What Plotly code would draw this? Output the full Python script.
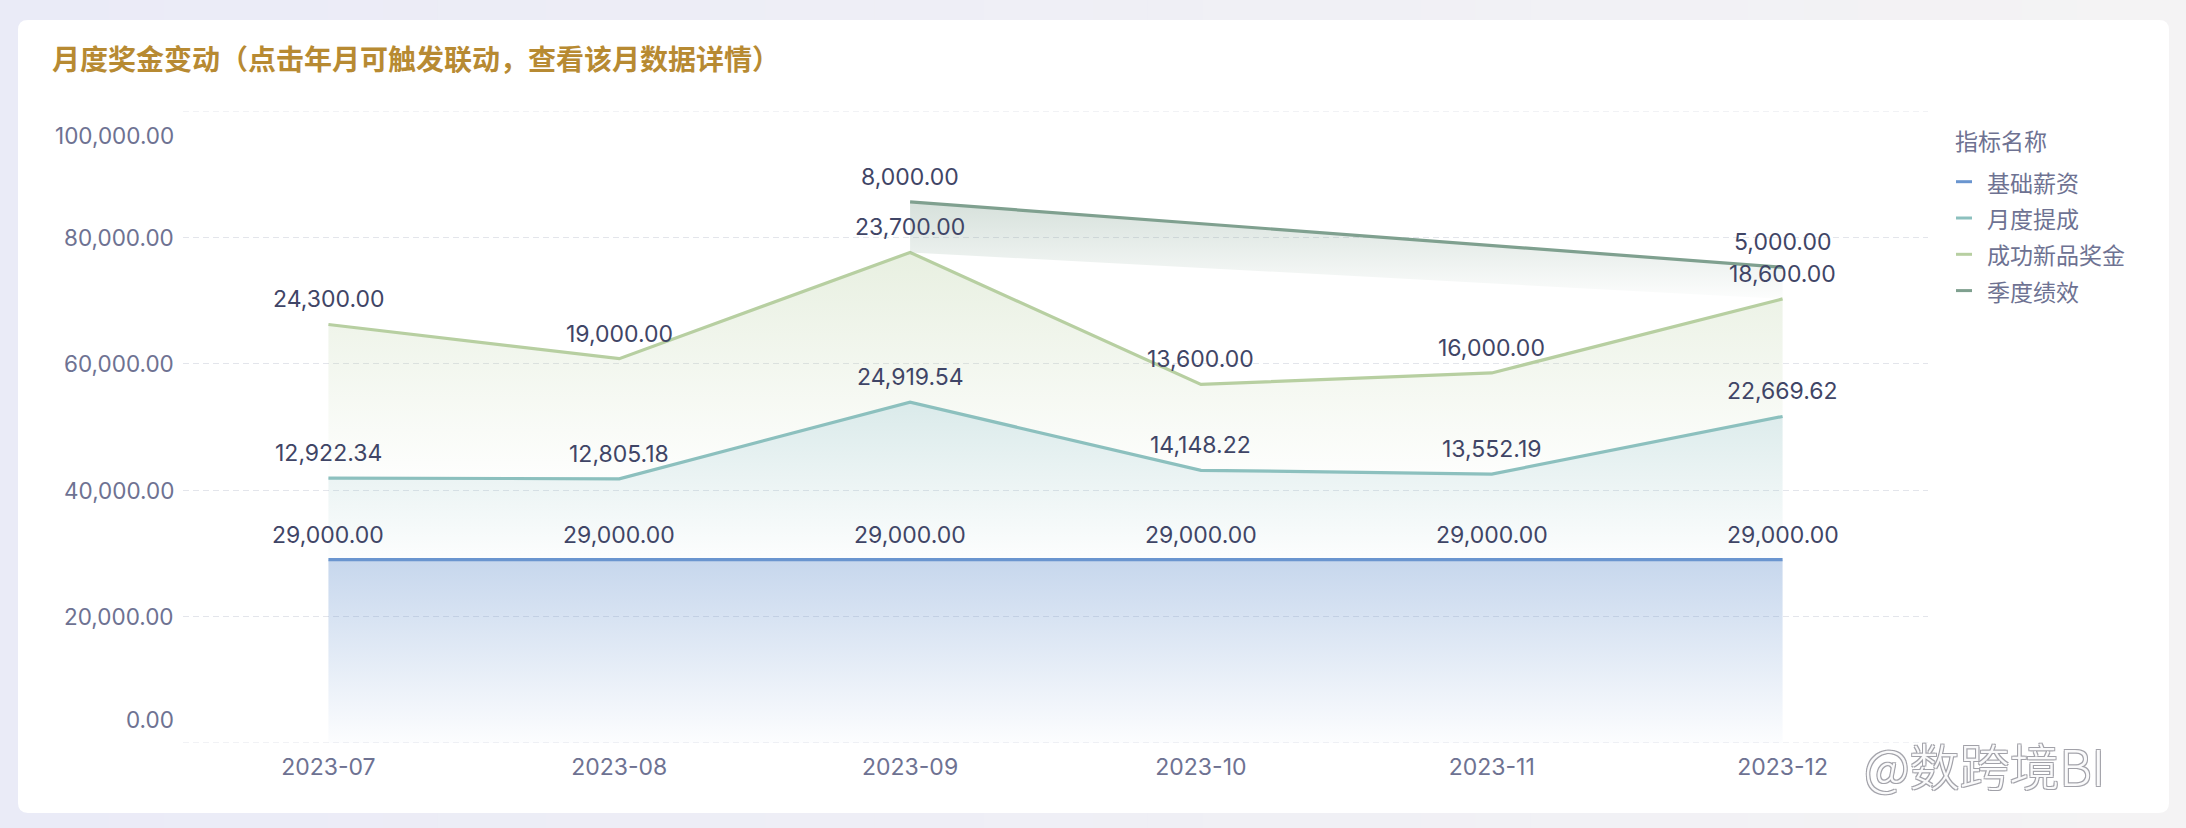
import plotly.graph_objects as go

# ---------------- data ----------------
months = ["2023-07", "2023-08", "2023-09", "2023-10", "2023-11", "2023-12"]
base_salary = [29000, 29000, 29000, 29000, 29000, 29000]
commission = [12922.34, 12805.18, 24919.54, 14148.22, 13552.19, 22669.62]
new_product_bonus = [24300, 19000, 23700, 13600, 16000, 18600]
quarterly_perf = [None, None, 8000, None, None, 5000]
series_names = ["基础薪资", "月度提成", "成功新品奖金", "季度绩效"]
y_ticks = [0, 20000, 40000, 60000, 80000, 100000]
title_text = "月度奖金变动（点击年月可触发联动，查看该月数据详情）"
legend_title = "指标名称"
watermark = "@数跨境BI"

# ---------------- style ----------------
W, H = 2186, 828
L, R, T, B = 183, 258, 111, 85
PW, PH = W - L - R, H - T - B

line_colors = ["#6A95CF", "#8CC0BE", "#B7CFA1", "#7FA08F"]
fill_rgb = [(106, 149, 207), (140, 190, 190), (183, 207, 161), (127, 160, 143)]
fill_top_alpha = [0.38, 0.32, 0.32, 0.32]
NUM_FONT = "Inter, Noto Sans CJK SC, sans-serif"
CJK_FONT = "Noto Sans CJK SC, sans-serif"
TICK_COLOR = "#6E7292"
LABEL_COLOR = "#3F4566"
GRID_COLOR = "#E3E5EB"


def px_x(px):
    return (px - L) / PW


def px_y(py):
    return (T + PH - py) / PH


# stacked tops
s1 = list(base_salary)
s2 = [a + b for a, b in zip(s1, commission)]
s3 = [a + b for a, b in zip(s2, new_product_bonus)]
q_idx = [i for i, v in enumerate(quarterly_perf) if v is not None]
q_x = [months[i] for i in q_idx]
q_low = [s3[i] for i in q_idx]
q_top = [s3[i] + quarterly_perf[i] for i in q_idx]


def grad(k, start, stop):
    r, g, b = fill_rgb[k]
    return dict(
        type="vertical",
        start=start,
        stop=stop,
        colorscale=[[0, f"rgba({r},{g},{b},0.02)"], [1, f"rgba({r},{g},{b},{fill_top_alpha[k]})"]],
    )


fig = go.Figure()
fig.add_trace(go.Scatter(
    x=months, y=s1, mode="lines", name=series_names[0],
    line=dict(color=line_colors[0], width=3.2), fill="tozeroy",
    fillgradient=grad(0, 0, max(s1)), hoverinfo="skip", showlegend=False))
fig.add_trace(go.Scatter(
    x=months, y=s2, mode="lines", name=series_names[1],
    line=dict(color=line_colors[1], width=3.2), fill="tonexty",
    fillgradient=grad(1, min(s1), max(s2)), hoverinfo="skip", showlegend=False))
fig.add_trace(go.Scatter(
    x=months, y=s3, mode="lines", name=series_names[2],
    line=dict(color=line_colors[2], width=3.2), fill="tonexty",
    fillgradient=grad(2, min(s2), max(s3)), hoverinfo="skip", showlegend=False))
fig.add_trace(go.Scatter(
    x=q_x, y=q_low, mode="lines", line=dict(width=0, color="rgba(0,0,0,0)"),
    hoverinfo="skip", showlegend=False))
fig.add_trace(go.Scatter(
    x=q_x, y=q_top, mode="lines", name=series_names[3],
    line=dict(color=line_colors[3], width=3.2), fill="tonexty",
    fillgradient=grad(3, min(q_low), max(q_top)), hoverinfo="skip", showlegend=False))

annotations = []
shapes = []

# background gradient strips
n = 40
c0, c1 = (234, 235, 247), (244, 243, 244)
for i in range(n):
    t = i / (n - 1)
    col = tuple(round(c0[j] + (c1[j] - c0[j]) * t) for j in range(3))
    shapes.append(dict(type="rect", xref="paper", yref="paper", layer="below",
                       x0=px_x(W * i / n), x1=px_x(W * (i + 1) / n + 1),
                       y0=px_y(H), y1=px_y(0), line=dict(width=0),
                       fillcolor=f"rgb{col}"))

# card
x0, x1, y0, y1, r = 18, 2169, 20, 813, 10
pts = [
    ("M", x0 + r, y0), ("L", x1 - r, y0), ("Q", x1, y0, x1, y0 + r),
    ("L", x1, y1 - r), ("Q", x1, y1, x1 - r, y1), ("L", x0 + r, y1),
    ("Q", x0, y1, x0, y1 - r), ("L", x0, y0 + r), ("Q", x0, y0, x0 + r, y0),
]
path = ""
for p in pts:
    cmd = p[0]
    coords = p[1:]
    segs = []
    for j in range(0, len(coords), 2):
        segs.append(f"{px_x(coords[j]):.6f},{px_y(coords[j + 1]):.6f}")
    path += cmd + " " + " ".join(segs) + " "
path += "Z"
shapes.append(dict(type="path", path=path, xref="paper", yref="paper", layer="below",
                   fillcolor="#FFFFFF", line=dict(width=0)))

# edge gridlines (top & bottom) that plotly omits at range ends
for v in (y_ticks[0], y_ticks[-1]):
    shapes.append(dict(type="line", xref="paper", yref="y", x0=0, x1=1, y0=v, y1=v,
                       layer="below", line=dict(color=GRID_COLOR, width=1.2, dash="6px,4px")))

# title
annotations.append(dict(text=f"<b>{title_text}</b>", x=px_x(50), y=px_y(58), xref="paper", yref="paper",
                        xanchor="left", yanchor="middle", showarrow=False,
                        font=dict(family=CJK_FONT, size=28, color="#B78A32")))

# y tick labels
for v in y_ticks:
    ys = 0
    if v == y_ticks[-1]:
        ys = -24
    elif v == y_ticks[0]:
        ys = 24
    annotations.append(dict(text=f"{v:,.2f}", x=0, xref="paper", y=v, yref="y",
                            xanchor="right", yanchor="middle", xshift=-7, yshift=ys,
                            showarrow=False, font=dict(family=NUM_FONT, size=22.5, color=TICK_COLOR)))

# data labels
for tops, vals in [(s1, base_salary), (s2, commission), (s3, new_product_bonus)]:
    for m, yv, v in zip(months, tops, vals):
        annotations.append(dict(text=f"{v:,.2f}", x=m, y=yv, xref="x", yref="y",
                                yanchor="middle", yshift=25, showarrow=False,
                                font=dict(family=NUM_FONT, size=23, color=LABEL_COLOR)))
for m, yv, i in zip(q_x, q_top, q_idx):
    annotations.append(dict(text=f"{quarterly_perf[i]:,.2f}", x=m, y=yv, xref="x", yref="y",
                            yanchor="middle", yshift=25, showarrow=False,
                            font=dict(family=NUM_FONT, size=23, color=LABEL_COLOR)))

# legend (manual)
annotations.append(dict(text=legend_title, x=px_x(1953), y=px_y(140), xref="paper", yref="paper",
                        xanchor="left", yanchor="middle", showarrow=False,
                        font=dict(family=CJK_FONT, size=23, color=TICK_COLOR)))
for k, name in enumerate(series_names):
    cy = 181.7 + 36.3 * k
    shapes.append(dict(type="line", xref="paper", yref="paper", x0=px_x(1956), x1=px_x(1972),
                       y0=px_y(cy), y1=px_y(cy), line=dict(color=line_colors[k], width=3)))
    annotations.append(dict(text=name, x=px_x(1985), y=px_y(cy), xref="paper", yref="paper",
                            xanchor="left", yanchor="middle", showarrow=False,
                            font=dict(family=CJK_FONT, size=23, color=TICK_COLOR)))

# watermark
annotations.append(dict(text=watermark, x=px_x(1862), y=px_y(764), xref="paper", yref="paper",
                        xanchor="left", yanchor="middle", showarrow=False,
                        font=dict(family=CJK_FONT, size=50, weight=300, color="rgba(255,255,255,0.95)",
                                  shadow="1px 1px 0 #A0A0A8, -1px -1px 0 #A0A0A8, 1px -1px 0 #A0A0A8, -1px 1px 0 #A0A0A8")))

fig.update_layout(
    width=W, height=H,
    margin=dict(l=L, r=R, t=T, b=B),
    paper_bgcolor="#EEEEF5",
    plot_bgcolor="rgba(0,0,0,0)",
    showlegend=False,
    shapes=shapes,
    annotations=annotations,
    xaxis=dict(type="category", categoryorder="array", categoryarray=months,
               range=[-0.5, len(months) - 0.5], showgrid=False, zeroline=False,
               showline=False, ticks="", ticklabelstandoff=8,
               tickfont=dict(family=NUM_FONT, size=23, color=TICK_COLOR)),
    yaxis=dict(range=[y_ticks[0], y_ticks[-1]], tickvals=y_ticks, showticklabels=False,
               showgrid=True, gridcolor=GRID_COLOR, gridwidth=1.2, griddash="6px,4px",
               zeroline=False, showline=False, ticks=""),
)

fig.write_html("out.html")
